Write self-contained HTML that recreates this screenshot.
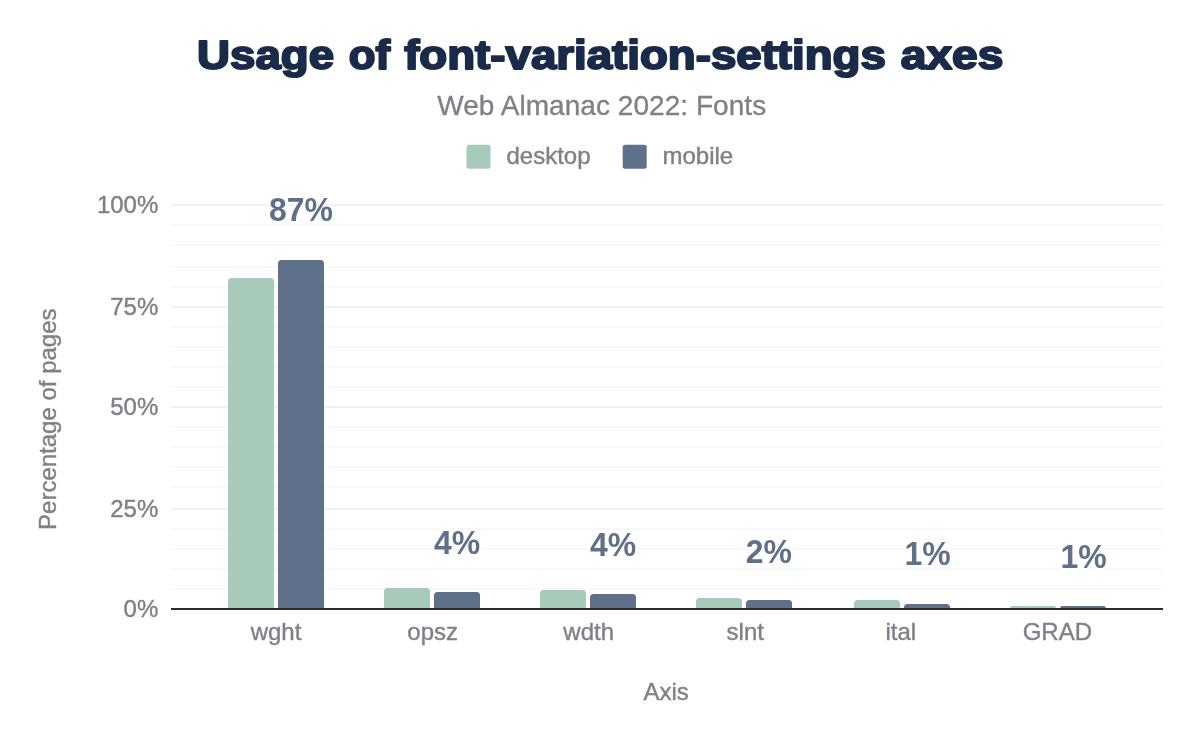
<!DOCTYPE html>
<html><head><meta charset="utf-8"><title>Usage of font-variation-settings axes</title>
<style>
html,body{margin:0;padding:0;background:#fff;}
body{width:1200px;height:742px;overflow:hidden;position:relative;font-family:"Liberation Sans",sans-serif;}
svg{position:absolute;left:0;top:0;display:block}
text{font-family:"Liberation Sans",sans-serif;}
.t text{fill:#1a2b49;font-weight:bold;font-size:40px;stroke:#1a2b49;stroke-width:2.0px;stroke-linejoin:round;}
.s{fill:#7e8288;font-size:28px;stroke:#7e8288;stroke-width:0.35px;}
.a{fill:#7e8288;font-size:24px;stroke:#7e8288;stroke-width:0.4px;}
.l{fill:#60708b;font-size:34px;font-weight:bold;stroke:#fff;stroke-width:5px;stroke-linejoin:round;paint-order:stroke fill;}
</style></head><body>
<svg width="1200" height="742" viewBox="0 0 1200 742">
<rect width="1200" height="742" fill="#fff"/>

<rect x="171" y="204" width="992" height="2" fill="#f1f1f1"/>
<rect x="171" y="224" width="992" height="2" fill="#f8f8f8"/>
<rect x="171" y="244" width="992" height="2" fill="#f8f8f8"/>
<rect x="171" y="266" width="992" height="2" fill="#f8f8f8"/>
<rect x="171" y="286" width="992" height="2" fill="#f8f8f8"/>
<rect x="171" y="306" width="992" height="2" fill="#f1f1f1"/>
<rect x="171" y="326" width="992" height="2" fill="#f8f8f8"/>
<rect x="171" y="346" width="992" height="2" fill="#f8f8f8"/>
<rect x="171" y="366" width="992" height="2" fill="#f8f8f8"/>
<rect x="171" y="386" width="992" height="2" fill="#f8f8f8"/>
<rect x="171" y="406" width="992" height="2" fill="#f1f1f1"/>
<rect x="171" y="426" width="992" height="2" fill="#f8f8f8"/>
<rect x="171" y="446" width="992" height="2" fill="#f8f8f8"/>
<rect x="171" y="466" width="992" height="2" fill="#f8f8f8"/>
<rect x="171" y="486" width="992" height="2" fill="#f8f8f8"/>
<rect x="171" y="508" width="992" height="2" fill="#f1f1f1"/>
<rect x="171" y="528" width="992" height="2" fill="#f8f8f8"/>
<rect x="171" y="548" width="992" height="2" fill="#f8f8f8"/>
<rect x="171" y="568" width="992" height="2" fill="#f8f8f8"/>
<rect x="171" y="588" width="992" height="2" fill="#f8f8f8"/>
<path d="M228,608.5 V281.50 Q228,278.00 231.5,278.00 H270.5 Q274,278.00 274,281.50 V608.5 Z" fill="#a8caba"/>
<path d="M278,608.5 V263.50 Q278,260.00 281.5,260.00 H320.5 Q324,260.00 324,263.50 V608.5 Z" fill="#60708b"/>
<path d="M384,608.5 V591.50 Q384,588.00 387.5,588.00 H426.5 Q430,588.00 430,591.50 V608.5 Z" fill="#a8caba"/>
<path d="M434,608.5 V595.50 Q434,592.00 437.5,592.00 H476.5 Q480,592.00 480,595.50 V608.5 Z" fill="#60708b"/>
<path d="M540,608.5 V593.50 Q540,590.00 543.5,590.00 H582.5 Q586,590.00 586,593.50 V608.5 Z" fill="#a8caba"/>
<path d="M590,608.5 V597.50 Q590,594.00 593.5,594.00 H632.5 Q636,594.00 636,597.50 V608.5 Z" fill="#60708b"/>
<path d="M696,608.5 V601.50 Q696,598.00 699.5,598.00 H738.5 Q742,598.00 742,601.50 V608.5 Z" fill="#a8caba"/>
<path d="M746,608.5 V603.50 Q746,600.00 749.5,600.00 H788.5 Q792,600.00 792,603.50 V608.5 Z" fill="#60708b"/>
<path d="M854,608.5 V603.50 Q854,600.00 857.5,600.00 H896.5 Q900,600.00 900,603.50 V608.5 Z" fill="#a8caba"/>
<path d="M904,608.5 V607.50 Q904,604.00 907.5,604.00 H946.5 Q950,604.00 950,607.50 V608.5 Z" fill="#60708b"/>
<path d="M1010,608.5 V608.50 Q1010,606.00 1012.5,606.00 H1053.5 Q1056,606.00 1056,608.50 V608.5 Z" fill="#a8caba"/>
<path d="M1060,608.5 V608.50 Q1060,606.00 1062.5,606.00 H1103.5 Q1106,606.00 1106,608.50 V608.5 Z" fill="#60708b"/>
<rect x="171" y="608" width="992" height="2" fill="#2b2b2b"/>
<text class="a" x="276" y="639.7" text-anchor="middle">wght</text>
<text class="l" transform="translate(301,221.2) scale(0.94,1)" text-anchor="middle">87%</text>
<text class="a" x="432.7" y="639.7" text-anchor="middle">opsz</text>
<text class="l" transform="translate(457.1,553.5) scale(0.94,1)" text-anchor="middle">4%</text>
<text class="a" x="588.7" y="639.7" text-anchor="middle">wdth</text>
<text class="l" transform="translate(613.2,555.5) scale(0.94,1)" text-anchor="middle">4%</text>
<text class="a" x="745.3" y="639.7" text-anchor="middle">slnt</text>
<text class="l" transform="translate(768.9,562.6) scale(0.94,1)" text-anchor="middle">2%</text>
<text class="a" x="900.8" y="639.7" text-anchor="middle">ital</text>
<text class="l" transform="translate(927.6,564.6) scale(0.94,1)" text-anchor="middle">1%</text>
<text class="a" x="1057.3" y="639.7" text-anchor="middle">GRAD</text>
<text class="l" transform="translate(1083.6,567.7) scale(0.94,1)" text-anchor="middle">1%</text>
<text class="a" x="158.3" y="212.7" text-anchor="end">100%</text>
<text class="a" x="158.3" y="314.7" text-anchor="end">75%</text>
<text class="a" x="158.3" y="414.7" text-anchor="end">50%</text>
<text class="a" x="158.3" y="516.7" text-anchor="end">25%</text>
<text class="a" x="158.3" y="616.7" text-anchor="end">0%</text>
<text class="a" transform="translate(56,419.2) rotate(-90)" text-anchor="middle">Percentage of pages</text>
<text class="a" x="666.2" y="699.8" text-anchor="middle">Axis</text>
<g class="t">
<text transform="translate(197.09,68.5) scale(1.1410,1)">Usage</text>
<text transform="translate(348.83,68.5) scale(1.0943,1)">of</text>
<text transform="translate(404.17,68.5) scale(1.1410,1)">font-variation-settings</text>
<text transform="translate(900.73,68.5) scale(1.1538,1)">axes</text>
</g>
<text class="s" x="601.7" y="114.5" text-anchor="middle" letter-spacing="0.05">Web Almanac 2022: Fonts</text>
<rect x="466.5" y="144.7" width="24" height="24" rx="2.5" fill="#a8caba"/>
<text class="a" x="506.5" y="163.5">desktop</text>
<rect x="622.7" y="144.7" width="24" height="24" rx="2.5" fill="#60708b"/>
<text class="a" x="662.5" y="163.5">mobile</text>
</svg></body></html>
